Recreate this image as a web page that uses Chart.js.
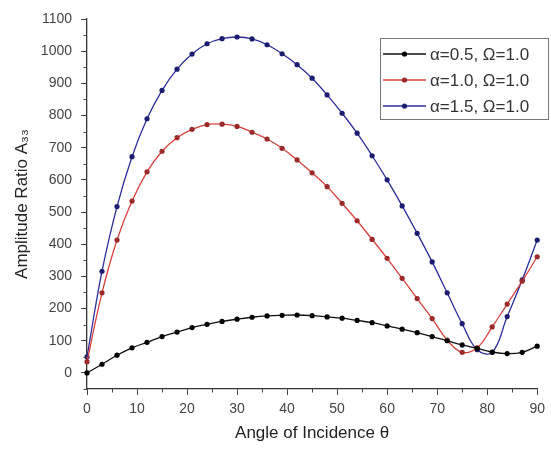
<!DOCTYPE html>
<html>
<head>
<meta charset="utf-8">
<script src="https://cdn.jsdelivr.net/npm/chart.js"></script>
<style>
  body { margin: 0; background: #fff; }
  #wrap { width: 551px; height: 451px; }
</style>
</head>
<body>
<div id="wrap"><canvas id="myLineChart" width="551" height="451"></canvas></div>
<script>
// angle of incidence (deg), one point every 3 deg
var angles = [0, 3, 6, 9, 12, 15, 18, 21, 24, 27, 30, 33, 36, 39, 42, 45, 48, 51, 54, 57, 60, 63, 66, 69, 72, 75, 78, 81, 84, 87, 90];

var seriesLabels = ['\u03b1=0.5, \u03a9=1.0', '\u03b1=1.0, \u03a9=1.0', '\u03b1=1.5, \u03a9=1.0'];

var alpha05 = [0, 27, 55, 78, 95, 113, 127, 141, 151, 160, 167, 173, 177, 179, 180, 178, 174, 170, 163, 156, 146, 136, 125, 113, 100, 87, 76, 65, 60, 64, 83];
var alpha10 = [35, 249, 413, 534, 625, 689, 731, 757, 772, 773, 766, 748, 727, 698, 662, 622, 579, 527, 473, 415, 356, 294, 231, 169, 102, 64, 78, 143, 214, 285, 361];
var alpha15 = [50, 316, 517, 672, 790, 878, 944, 991, 1023, 1039, 1044, 1038, 1020, 992, 958, 916, 864, 807, 745, 675, 600, 519, 434, 345, 249, 153, 72, 64, 175, 289, 413];

var yTicks = [0, 100, 200, 300, 400, 500, 600, 700, 800, 900, 1000, 1100];

var lineColors = ['#111111', '#d8403c', '#2b2e9c'];
var dotColors = ['#000000', '#9c2a2a', '#1c1c70'];
var fontName = '"Liberation Sans", Arial, sans-serif';

function makeSet(i, values) {
    return {
        label: seriesLabels[i],
        data: angles.map((a, k) => ({ x: a, y: values[k] })),
        borderColor: lineColors[i],
        backgroundColor: dotColors[i],
        pointBackgroundColor: dotColors[i],
        pointBorderWidth: 0,
        pointRadius: 2.6,
        borderWidth: 1.3,
        tension: 0.4,
        fill: false,
        clip: false
    };
}

// minor ticks (every 5 deg / 50 units) drawn outward like the major ones
var minorTicks = {
    id: 'minorTicks',
    afterDraw: function (chart) {
        var c = chart.ctx, xs = chart.scales.x, ys = chart.scales.y;
        var area = chart.chartArea;
        c.save();
        c.strokeStyle = '#444';
        c.lineWidth = 1;
        for (var v = 5; v < 90; v += 10) {
            var px = Math.round(xs.getPixelForValue(v)) + 0.5;
            c.beginPath();
            c.moveTo(px, area.bottom);
            c.lineTo(px, area.bottom + 3.5);
            c.stroke();
        }
        for (var w = -50; w < 1100; w += 100) {
            var py = Math.round(ys.getPixelForValue(w)) + 0.5;
            c.beginPath();
            c.moveTo(area.left, py);
            c.lineTo(area.left - 3.5, py);
            c.stroke();
        }
        c.restore();
    }
};

// boxed legend in the upper right corner
var boxLegend = {
    id: 'boxLegend',
    afterDraw: function (chart) {
        var c = chart.ctx;
        var bx = 380.5, by = 38.5, bw = 168, bh = 81;
        c.save();
        c.fillStyle = '#fff';
        c.fillRect(bx, by, bw, bh);
        c.strokeStyle = '#777';
        c.lineWidth = 1;
        c.strokeRect(bx, by, bw, bh);
        c.font = '17px ' + fontName;
        c.textBaseline = 'middle';
        chart.data.datasets.forEach((ds, i) => {
            var y = 54 + i * 26;
            c.strokeStyle = ds.borderColor;
            c.lineWidth = 1.4;
            c.beginPath();
            c.moveTo(383, y);
            c.lineTo(426, y);
            c.stroke();
            c.fillStyle = ds.pointBackgroundColor;
            c.beginPath();
            c.arc(404.5, y, 2.6, 0, Math.PI * 2);
            c.fill();
            c.fillStyle = '#333';
            c.fillText(ds.label, 430, y + 1);
        });
        c.restore();
    }
};

var ctx = document.getElementById('myLineChart').getContext('2d');
var myLineChart = new Chart(ctx, {
    type: 'line',
    data: {
        datasets: [makeSet(0, alpha05), makeSet(1, alpha10), makeSet(2, alpha15)]
    },
    options: {
        responsive: false,
        animation: false,
        devicePixelRatio: 1,
        layout: { padding: { top: 19, right: 8, left: 0, bottom: 0 } },
        plugins: {
            legend: { display: false },
            tooltip: { enabled: false }
        },
        scales: {
            x: {
                type: 'linear',
                min: 0,
                max: 90,
                afterFit: function (s) { s.height = 62; },
                ticks: {
                    stepSize: 10,
                    padding: 6,
                    color: '#444',
                    font: { family: fontName, size: 14 },
                    callback: v => String(v)
                },
                grid: {
                    drawOnChartArea: false,
                    drawTicks: true,
                    tickLength: 6,
                    tickColor: '#444'
                },
                border: { display: true, color: '#333', width: 1.3 },
                title: {
                    display: true,
                    text: 'Angle of Incidence \u03b8',
                    color: '#222',
                    font: { family: fontName, size: 17 },
                    padding: { top: 0, bottom: 7 }
                }
            },
            y: {
                min: -50,
                max: 1100,
                afterFit: function (s) { s.width = 87; },
                afterBuildTicks: function (s) {
                    s.ticks = yTicks.map(v => ({ value: v }));
                },
                ticks: {
                    padding: 9,
                    color: '#444',
                    font: { family: fontName, size: 14 },
                    callback: v => String(v)
                },
                grid: {
                    drawOnChartArea: false,
                    drawTicks: true,
                    tickLength: 6,
                    tickColor: '#444'
                },
                border: { display: true, color: '#333', width: 1.3 },
                title: {
                    display: true,
                    text: 'Amplitude Ratio A\u2083\u2083',
                    color: '#222',
                    font: { family: fontName, size: 17 },
                    padding: { top: 12, bottom: 0 }
                }
            }
        }
    },
    plugins: [minorTicks, boxLegend]
});
</script>
</body>
</html>
